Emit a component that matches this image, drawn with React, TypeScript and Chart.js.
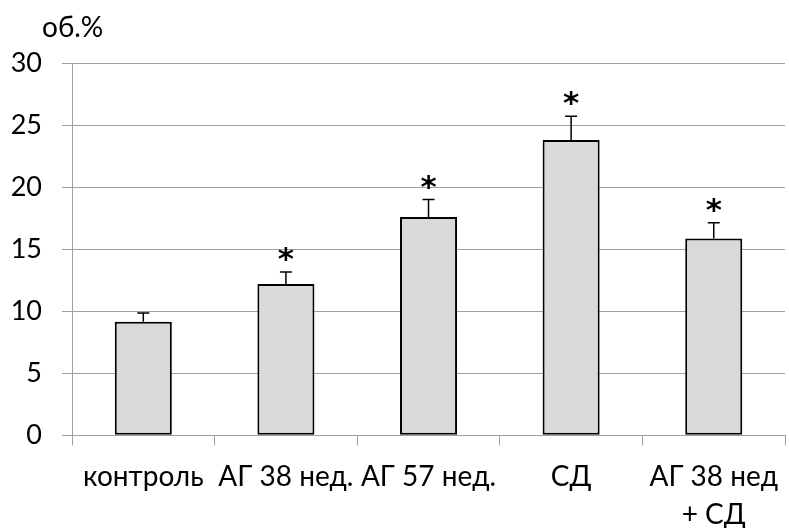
import React, { useEffect, useRef } from "react";
import { Chart, registerables } from "chart.js";

Chart.register(...registerables);

// ---- data ----
const categories: (string | string[])[] = [
  "контроль",
  "АГ 38 нед.",
  "АГ 57 нед.",
  "СД",
  ["АГ 38 нед", "+ СД"],
];
const values = [9.15, 12.2, 17.6, 23.8, 15.85];
const errors = [0.7, 0.95, 1.4, 1.9, 1.27];
const marks = ["", "*", "*", "*", "*"];
const yMin = 0;
const yMax = 30;
const yStep = 5;
const unitLabel = "об.%";

const FONT = "Lato, 'Open Sans', 'Noto Sans', sans-serif";
const MARK_FONT = "'DejaVu Sans', sans-serif";

const errorBarPlugin = {
  id: "errorBarsAndMarks",
  afterDatasetsDraw(chart: any) {
    const { ctx } = chart;
    const y = chart.scales.y;
    const meta = chart.getDatasetMeta(0);
    ctx.save();
    ctx.strokeStyle = "#000";
    ctx.lineWidth = 1.5;
    meta.data.forEach((bar: any, i: number) => {
      const top = y.getPixelForValue(values[i] + errors[i]);
      ctx.beginPath();
      ctx.moveTo(bar.x, bar.y);
      ctx.lineTo(bar.x, top);
      ctx.moveTo(bar.x - 6, top);
      ctx.lineTo(bar.x + 6, top);
      ctx.stroke();
      if (marks[i]) {
        ctx.fillStyle = "#000";
        ctx.font = `bold 31px ${MARK_FONT}`;
        ctx.textAlign = "center";
        ctx.textBaseline = "alphabetic";
        ctx.fillText(marks[i], bar.x, top - 3);
      }
    });
    ctx.restore();
  },
};

const unitPlugin = {
  id: "unitLabel",
  afterDraw(chart: any) {
    const { ctx, chartArea } = chart;
    ctx.save();
    ctx.fillStyle = "#000";
    ctx.font = `28px ${FONT}`;
    ctx.textAlign = "left";
    ctx.textBaseline = "alphabetic";
    ctx.fillText(unitLabel, chartArea.left - 30, 37);
    ctx.restore();
  },
};

export default function App() {
  const ref = useRef<HTMLCanvasElement | null>(null);

  useEffect(() => {
    if (!ref.current) return;
    Chart.defaults.font.family = FONT;
    const chart = new Chart(ref.current, {
      type: "bar",
      data: {
        labels: categories as any,
        datasets: [
          {
            data: values,
            backgroundColor: "#d9d9d9",
            borderColor: "#000",
            borderWidth: 2,
            borderSkipped: false,
            barPercentage: 0.4,
            categoryPercentage: 1,
          },
        ],
      },
      options: {
        responsive: false,
        animation: false,
        layout: { padding: { top: 63, left: 0, right: 0, bottom: 0 } },
        plugins: {
          legend: { display: false },
          tooltip: { enabled: false },
          title: { display: false },
        },
        scales: {
          x: {
            grid: {
              offset: true,
              drawOnChartArea: false,
              drawTicks: true,
              tickLength: 10,
              color: "#a0a0a0",
              lineWidth: 1,
            },
            border: { display: true, color: "#a0a0a0", width: 1 },
            ticks: {
              color: "#000",
              font: { size: 28, lineHeight: 1.36 },
              padding: 13,
              maxRotation: 0,
              autoSkip: false,
            },
            afterFit: (s: any) => {
              s.height = 92.7;
            },
          },
          y: {
            min: yMin,
            max: yMax,
            ticks: {
              stepSize: yStep,
              color: "#000",
              font: { size: 27 },
              padding: 20,
            },
            grid: { color: "#a0a0a0", lineWidth: 1, tickLength: 10 },
            border: { display: true, color: "#a0a0a0", width: 1 },
            afterFit: (s: any) => {
              s.width = 72;
            },
          },
        },
      },
      plugins: [errorBarPlugin, unitPlugin],
    });
    return () => chart.destroy();
  }, []);

  return (
    <div style={{ position: "fixed", left: 0, top: 0, width: 791, height: 528 }}>
      <canvas ref={ref} width={791} height={528} />
    </div>
  );
}
